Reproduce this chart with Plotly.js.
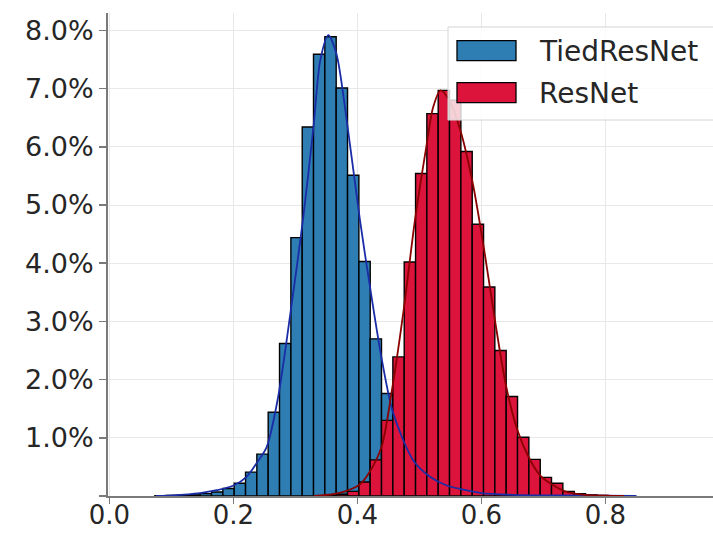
<!DOCTYPE html>
<html>
<head>
<meta charset="utf-8">
<script src="https://cdn.plot.ly/plotly-3.0.1.min.js"></script>
<style>html,body{margin:0;padding:0;background:#fff;}#chart{width:713px;height:533px;}</style>
</head>
<body>
<div id="chart"></div>
<script>
// Histogram bin centres (shared bins) and bin width
const binCenters = [0.0823,0.1006,0.1189,0.1372,0.1554,0.1737,0.1920,0.2103,0.2286,0.2468,
  0.2651,0.2834,0.3017,0.3200,0.3382,0.3565,0.3748,0.3931,0.4114,0.4296,
  0.4479,0.4662,0.4845,0.5028,0.5210,0.5393,0.5576,0.5759,0.5942,0.6124,
  0.6307,0.6490,0.6673,0.6856,0.7038,0.7221,0.7404,0.7587,0.7770,0.7952];
const binWidth = 0.01828;

// Share of samples per bin (%)
const tiedResNetPct = [0.005,0.01,0.015,0.02,0.04,0.07,0.13,0.22,0.41,0.72,
  1.44,2.62,4.44,6.34,7.59,7.89,7.01,5.51,4.03,2.70,
  1.76,1.15,0.72,0.44,0.27,0.16,0.10,0.06,0.04,0.02,
  0.015,0.01,0.005,null,null,null,null,null,null,null];
const resNetPct = [null,null,null,null,null,null,null,null,null,null,
  null,null,null,null,null,0.01,0.03,0.08,0.24,0.62,
  1.30,2.39,4.02,5.54,6.57,6.97,6.80,5.92,4.67,3.59,
  2.50,1.71,1.01,0.63,0.32,0.22,0.08,0.04,0.02,0.01];

// Density curves
const tiedCurveX = [0.075,0.10,0.146,0.173,0.20,0.221,0.237,0.2535,0.272,0.294,0.312,0.329,0.340,0.353,0.366,0.3826,0.404,0.4218,0.4395,0.4577,0.49,0.517,0.544,0.571,0.60,0.65,0.72,0.85];
const tiedCurveY = [0.0,0.01,0.05,0.10,0.18,0.33,0.56,0.84,1.70,3.31,4.74,6.34,7.49,7.92,7.60,6.46,4.74,3.48,2.33,1.42,0.61,0.33,0.18,0.11,0.05,0.02,0.01,0.0];
const resCurveX = [0.33,0.36,0.38,0.404,0.42,0.439,0.456,0.4745,0.4927,0.511,0.522,0.534,0.548,0.566,0.586,0.604,0.622,0.6395,0.658,0.676,0.694,0.712,0.737,0.767,0.80,0.83];
const resCurveY = [0.0,0.03,0.08,0.2,0.42,0.85,1.85,3.2,4.74,6.0,6.68,6.97,6.80,6.28,5.37,4.25,3.0,1.9,1.13,0.67,0.36,0.21,0.07,0.02,0.005,0.0];

const seriesNames = ['TiedResNet','ResNet'];
const yTickVals = [0,1,2,3,4,5,6,7,8];
const yTickText = ['','1.0%','2.0%','3.0%','4.0%','5.0%','6.0%','7.0%','8.0%'];
const xTickVals = [0,0.2,0.4,0.6,0.8];
const xTickText = ['0.0','0.2','0.4','0.6','0.8'];

const blueFill = '#2e7eb4', redFill = '#dc143c';
const blueLine = '#1a2ca6', redLine = '#8b0000';

const traces = [
  {type:'bar', x:binCenters, y:tiedResNetPct, width:binWidth, name:seriesNames[0],
   marker:{color:blueFill, line:{color:'#000', width:1.4}}, hoverinfo:'x+y'},
  {type:'bar', x:binCenters, y:resNetPct, width:binWidth, name:seriesNames[1],
   marker:{color:redFill, line:{color:'#000', width:1.4}}, hoverinfo:'x+y'},
  {type:'scatter', mode:'lines', x:tiedCurveX, y:tiedCurveY, line:{color:blueLine, width:1.8, shape:'spline', smoothing:0.8}, showlegend:false, hoverinfo:'skip'},
  {type:'scatter', mode:'lines', x:resCurveX, y:resCurveY, line:{color:redLine, width:1.8, shape:'spline', smoothing:0.8}, showlegend:false, hoverinfo:'skip'}
];

const font = {family:'DejaVu Sans, sans-serif', size:27, color:'#262626'};
const xFont = {family:'DejaVu Sans, sans-serif', size:26, color:'#262626'};
const legendFont = {family:'DejaVu Sans, sans-serif', size:28, color:'#262626'};
const L=108, T=13, B=37, W=713, H=533;
const pw = W-L, ph = H-T-B;
const px2x = p => (p-L)/pw;
const py2y = p => (H-B-p)/ph;

const layout = {
  width:W, height:H,
  margin:{l:L, r:0, t:T, b:B, pad:0},
  paper_bgcolor:'#fff', plot_bgcolor:'#fff',
  barmode:'overlay', bargap:0,
  showlegend:false,
  font:font,
  xaxis:{range:[-0.0024, 0.9734], tickvals:xTickVals, ticktext:xTickText, showgrid:true, gridcolor:'#e8e8e8', gridwidth:1,
         zeroline:false, showline:true, linecolor:'#7a7a7a', linewidth:2, ticks:'outside', ticklen:6, tickwidth:1.5, tickcolor:'#7a7a7a',
         tickfont:xFont, automargin:false, fixedrange:true, ticklabelstandoff:-11},
  yaxis:{range:[0, ph/58.2], tickvals:yTickVals, ticktext:yTickText, showgrid:true, gridcolor:'#e8e8e8', gridwidth:1,
         zeroline:false, showline:true, linecolor:'#7a7a7a', linewidth:2, ticks:'outside', ticklen:7, tickwidth:1.5, tickcolor:'#7a7a7a',
         tickfont:font, automargin:false, fixedrange:true},
  shapes:[
    {type:'rect', xref:'paper', yref:'paper', x0:px2x(448), x1:px2x(716), y0:py2y(120), y1:py2y(27),
     fillcolor:'rgba(255,255,255,0.8)', line:{color:'#d4d4d4', width:1}, layer:'above'},
    {type:'rect', xref:'paper', yref:'paper', x0:px2x(457), x1:px2x(516), y0:py2y(60.7), y1:py2y(40.7),
     fillcolor:blueFill, line:{color:'#000', width:1.3}, layer:'above'},
    {type:'rect', xref:'paper', yref:'paper', x0:px2x(457), x1:px2x(516), y0:py2y(102.7), y1:py2y(82.7),
     fillcolor:redFill, line:{color:'#000', width:1.3}, layer:'above'}
  ],
  annotations:[
    {xref:'paper', yref:'paper', x:px2x(537), y:py2y(51), xanchor:'left', yanchor:'middle', text:seriesNames[0], showarrow:false, font:legendFont},
    {xref:'paper', yref:'paper', x:px2x(537), y:py2y(93), xanchor:'left', yanchor:'middle', text:seriesNames[1], showarrow:false, font:legendFont}
  ]
};

Plotly.newPlot('chart', traces, layout, {displayModeBar:false, staticPlot:true});
</script>
</body>
</html>
